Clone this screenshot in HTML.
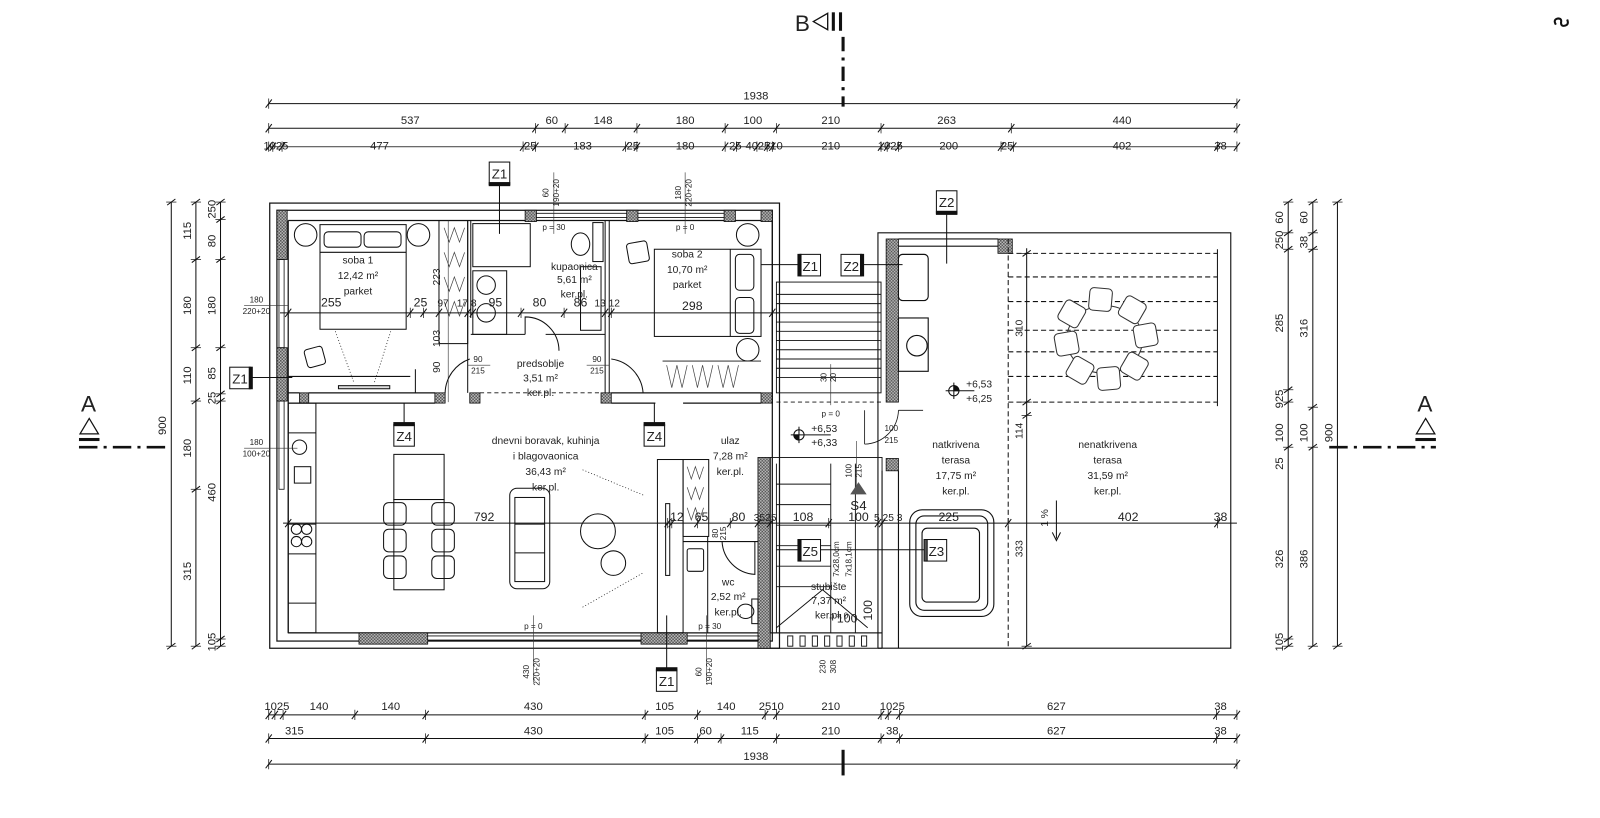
<!DOCTYPE html>
<html><head><meta charset="utf-8"><style>
html,body{margin:0;padding:0;background:#fff;}
svg{display:block;}
text{font-family:"Liberation Sans Narrow","Liberation Sans",sans-serif;fill:#222;}
</style></head><body>
<svg xmlns="http://www.w3.org/2000/svg" width="1600" height="818" viewBox="0 0 1560 797.5" preserveAspectRatio="none">
<defs>
<pattern id="h" width="3" height="3" patternUnits="userSpaceOnUse">
<rect width="3" height="3" fill="#bbb"/><rect width="1.5" height="1.5" fill="#555"/><rect x="1.5" y="1.5" width="1.5" height="1.5" fill="#555"/>
</pattern>
<g id="tk"><line x1="-3" y1="4" x2="3" y2="-4" stroke="#111" stroke-width="1"/><line x1="0" y1="-5" x2="0" y2="5" stroke="#111" stroke-width="0.7"/></g>
<g id="tv"><line x1="-4" y1="3" x2="4" y2="-3" stroke="#111" stroke-width="1"/><line x1="-5" y1="0" x2="5" y2="0" stroke="#111" stroke-width="0.7"/></g>
</defs>
<rect width="1560" height="798" fill="#fff"/>

<!-- B section marks -->
<text x="775" y="30" font-size="22" font-family="Liberation Sans">B</text>
<polygon points="793,21 807,13 807,29" fill="none" stroke="#111" stroke-width="1.3"/>
<rect x="811" y="12" width="3" height="18" fill="#111"/><rect x="818" y="12" width="3" height="18" fill="#111"/>
<line x1="822" y1="36" x2="822" y2="104" stroke="#111" stroke-width="3" stroke-dasharray="14,6,3,6"/>
<line x1="822" y1="731" x2="822" y2="756" stroke="#111" stroke-width="3"/>
<path d="M1517,24 q-3,-5 2,-6 q4,0 3,4 q0,4 4,3 q4,-1 2,-6" fill="none" stroke="#111" stroke-width="2"/>

<!-- TOP DIMENSIONS -->
<g stroke="#111" stroke-width="1"><line x1="262" y1="101" x2="1206" y2="101"/><line x1="262" y1="125" x2="1206" y2="125"/><line x1="262" y1="143" x2="1206" y2="143" stroke="#555"/></g>
<g font-size="11" text-anchor="middle">
<text x="737" y="97">1938</text>
<text x="400" y="121">537</text><text x="538" y="121">60</text><text x="588" y="121">148</text><text x="668" y="121">180</text><text x="734" y="121">100</text><text x="810" y="121">210</text><text x="923" y="121">263</text><text x="1094" y="121">440</text>
<text x="269" y="146">1025</text><text x="370" y="146">477</text><text x="517" y="146">25</text><text x="568" y="146">183</text><text x="617" y="146">25</text><text x="668" y="146">180</text><text x="717" y="146">25</text><text x="733" y="146">40</text><text x="751" y="146">2510</text><text x="810" y="146">210</text><text x="868" y="146">1025</text><text x="925" y="146">200</text><text x="982" y="146">25</text><text x="1094" y="146">402</text><text x="1190" y="146">38</text>
</g>
<use href="#tk" x="262" y="101"/><use href="#tk" x="1206" y="101"/>
<use href="#tk" x="262" y="125"/><use href="#tk" x="522" y="125"/><use href="#tk" x="551" y="125"/><use href="#tk" x="621" y="125"/><use href="#tk" x="707" y="125"/><use href="#tk" x="757" y="125"/><use href="#tk" x="859" y="125"/><use href="#tk" x="986" y="125"/><use href="#tk" x="1206" y="125"/>
<use href="#tk" x="262" y="143"/><use href="#tk" x="266" y="143"/><use href="#tk" x="275" y="143"/><use href="#tk" x="510" y="143"/><use href="#tk" x="522" y="143"/><use href="#tk" x="610" y="143"/><use href="#tk" x="621" y="143"/><use href="#tk" x="707" y="143"/><use href="#tk" x="718" y="143"/><use href="#tk" x="738" y="143"/><use href="#tk" x="748" y="143"/><use href="#tk" x="753" y="143"/><use href="#tk" x="859" y="143"/><use href="#tk" x="865" y="143"/><use href="#tk" x="876" y="143"/><use href="#tk" x="976" y="143"/><use href="#tk" x="988" y="143"/><use href="#tk" x="1187" y="143"/><use href="#tk" x="1206" y="143"/>

<!-- BOTTOM DIMENSIONS -->
<g stroke="#111" stroke-width="1"><line x1="262" y1="697" x2="1206" y2="697"/><line x1="262" y1="720" x2="1206" y2="720"/><line x1="262" y1="745" x2="1206" y2="745"/></g>
<g font-size="11" text-anchor="middle">
<text x="270" y="692">1025</text><text x="311" y="692">140</text><text x="381" y="692">140</text><text x="520" y="692">430</text><text x="648" y="692">105</text><text x="708" y="692">140</text><text x="752" y="692">2510</text><text x="810" y="692">210</text><text x="870" y="692">1025</text><text x="1030" y="692">627</text><text x="1190" y="692">38</text>
<text x="287" y="716">315</text><text x="520" y="716">430</text><text x="648" y="716">105</text><text x="688" y="716">60</text><text x="731" y="716">115</text><text x="810" y="716">210</text><text x="870" y="716">38</text><text x="1030" y="716">627</text><text x="1190" y="716">38</text>
<text x="737" y="741">1938</text>
</g>
<use href="#tk" x="262" y="697"/><use href="#tk" x="268" y="697"/><use href="#tk" x="276" y="697"/><use href="#tk" x="346" y="697"/><use href="#tk" x="415" y="697"/><use href="#tk" x="629" y="697"/><use href="#tk" x="680" y="697"/><use href="#tk" x="746" y="697"/><use href="#tk" x="757" y="697"/><use href="#tk" x="859" y="697"/><use href="#tk" x="866" y="697"/><use href="#tk" x="877" y="697"/><use href="#tk" x="1186" y="697"/><use href="#tk" x="1206" y="697"/>
<use href="#tk" x="262" y="720"/><use href="#tk" x="415" y="720"/><use href="#tk" x="629" y="720"/><use href="#tk" x="680" y="720"/><use href="#tk" x="703" y="720"/><use href="#tk" x="757" y="720"/><use href="#tk" x="859" y="720"/><use href="#tk" x="877" y="720"/><use href="#tk" x="1186" y="720"/><use href="#tk" x="1206" y="720"/>
<use href="#tk" x="262" y="745"/><use href="#tk" x="1206" y="745"/>

<!-- LEFT DIMENSIONS -->
<g stroke="#111" stroke-width="1"><line x1="167" y1="197" x2="167" y2="630"/><line x1="191" y1="197" x2="191" y2="630"/><line x1="215" y1="197" x2="215" y2="630"/></g>
<use href="#tv" x="167" y="197"/><use href="#tv" x="167" y="630"/>
<use href="#tv" x="191" y="197"/><use href="#tv" x="191" y="253"/><use href="#tv" x="191" y="339"/><use href="#tv" x="191" y="391"/><use href="#tv" x="191" y="477"/><use href="#tv" x="191" y="630"/>
<use href="#tv" x="215" y="197"/><use href="#tv" x="215" y="214"/><use href="#tv" x="215" y="253"/><use href="#tv" x="215" y="339"/><use href="#tv" x="215" y="384"/><use href="#tv" x="215" y="391"/><use href="#tv" x="215" y="623"/><use href="#tv" x="215" y="630"/>
<g font-size="11" text-anchor="middle">
<text transform="translate(186,225) rotate(-90)">115</text><text transform="translate(186,298) rotate(-90)">180</text><text transform="translate(186,366) rotate(-90)">110</text><text transform="translate(186,437) rotate(-90)">180</text><text transform="translate(186,557) rotate(-90)">315</text>
<text transform="translate(210,204) rotate(-90)">250</text><text transform="translate(210,235) rotate(-90)">80</text><text transform="translate(210,298) rotate(-90)">180</text><text transform="translate(210,364) rotate(-90)">85</text><text transform="translate(210,388) rotate(-90)">25</text><text transform="translate(210,480) rotate(-90)">460</text><text transform="translate(210,626) rotate(-90)">105</text>
<text transform="translate(162,415) rotate(-90)">900</text>
</g>
<text x="79" y="401" font-size="22" font-family="Liberation Sans">A</text>
<polygon points="87,408 78,423 96,423" fill="none" stroke="#111" stroke-width="1.2"/>
<rect x="77" y="427" width="20" height="3" fill="#111"/>
<line x1="77" y1="436" x2="167" y2="436" stroke="#111" stroke-width="2.5" stroke-dasharray="18,6,3,6"/>

<!-- RIGHT DIMENSIONS -->
<g stroke="#111" stroke-width="1"><line x1="1256" y1="197" x2="1256" y2="630"/><line x1="1280" y1="197" x2="1280" y2="630"/><line x1="1304" y1="197" x2="1304" y2="630"/></g>
<use href="#tv" x="1256" y="197"/><use href="#tv" x="1256" y="227"/><use href="#tv" x="1256" y="243"/><use href="#tv" x="1256" y="380"/><use href="#tv" x="1256" y="392"/><use href="#tv" x="1256" y="436"/><use href="#tv" x="1256" y="623"/><use href="#tv" x="1256" y="630"/>
<use href="#tv" x="1280" y="197"/><use href="#tv" x="1280" y="227"/><use href="#tv" x="1280" y="243"/><use href="#tv" x="1280" y="397"/><use href="#tv" x="1280" y="436"/><use href="#tv" x="1280" y="630"/>
<use href="#tv" x="1304" y="197"/><use href="#tv" x="1304" y="630"/>
<g font-size="11" text-anchor="middle">
<text transform="translate(1251,212) rotate(-90)">60</text><text transform="translate(1251,234) rotate(-90)">250</text><text transform="translate(1251,315) rotate(-90)">285</text><text transform="translate(1251,389) rotate(-90)">925</text><text transform="translate(1251,422) rotate(-90)">100</text><text transform="translate(1251,452) rotate(-90)">25</text><text transform="translate(1251,545) rotate(-90)">326</text><text transform="translate(1251,626) rotate(-90)">105</text>
<text transform="translate(1275,212) rotate(-90)">60</text><text transform="translate(1275,236) rotate(-90)">38</text><text transform="translate(1275,320) rotate(-90)">316</text><text transform="translate(1275,422) rotate(-90)">100</text><text transform="translate(1275,545) rotate(-90)">386</text>
<text transform="translate(1299,422) rotate(-90)">900</text>
</g>
<text x="1382" y="401" font-size="22" font-family="Liberation Sans">A</text>
<polygon points="1390,408 1381,423 1399,423" fill="none" stroke="#111" stroke-width="1.2"/>
<rect x="1380" y="427" width="20" height="3" fill="#111"/>
<line x1="1296" y1="436" x2="1400" y2="436" stroke="#111" stroke-width="2.5" stroke-dasharray="18,6,3,6"/>

<!-- MAIN HOUSE WALLS -->
<g fill="none" stroke="#111" stroke-width="1.2">
<rect x="263" y="198" width="497" height="434"/>
<rect x="270" y="205" width="483" height="420"/>
<line x1="281" y1="215" x2="753" y2="215"/>
<line x1="281" y1="215" x2="281" y2="617"/>
<line x1="281" y1="617" x2="740" y2="617"/>
</g>
<!-- hatched columns -->
<g fill="url(#h)" stroke="#111" stroke-width="0.8">
<rect x="270" y="205" width="10" height="48"/><rect x="270" y="339" width="10" height="52"/>
<rect x="512" y="205" width="11" height="11"/><rect x="611" y="205" width="11" height="11"/><rect x="706" y="205" width="11" height="11"/><rect x="742" y="205" width="11" height="11"/>
<rect x="292" y="383" width="9" height="10"/><rect x="424" y="383" width="10" height="10"/><rect x="458" y="383" width="10" height="10"/><rect x="586" y="383" width="10" height="10"/><rect x="742" y="383" width="11" height="10"/>
<rect x="350" y="617" width="67" height="11"/><rect x="625" y="617" width="45" height="11"/>
<rect x="739" y="446" width="12" height="186"/>
<rect x="864" y="233" width="12" height="159"/><rect x="973" y="233" width="14" height="14"/>
<rect x="864" y="447" width="12" height="12"/>
</g>
<!-- windows -->
<g fill="none" stroke="#111" stroke-width="0.8">
<rect x="272" y="253" width="5" height="86"/><rect x="272" y="391" width="5" height="86"/>
<line x1="523" y1="208" x2="611" y2="208"/><line x1="523" y1="212" x2="611" y2="212"/>
<line x1="622" y1="208" x2="706" y2="208"/><line x1="622" y1="212" x2="706" y2="212"/>
<line x1="417" y1="620" x2="625" y2="620"/><line x1="417" y1="624" x2="625" y2="624"/>
<line x1="670" y1="620" x2="740" y2="620"/><line x1="670" y1="624" x2="740" y2="624"/>
</g>
<!-- interior horizontal wall -->
<g stroke="#111" stroke-width="1.2" fill="none">
<line x1="281" y1="383" x2="292" y2="383"/><line x1="281" y1="393" x2="424" y2="393"/><line x1="301" y1="383" x2="424" y2="383"/>
<line x1="596" y1="383" x2="742" y2="383"/><line x1="596" y1="393" x2="639" y2="393"/><line x1="666" y1="393" x2="742" y2="393"/>
<line x1="468" y1="383" x2="586" y2="383" stroke-dasharray="4,3" stroke-width="0.8"/>
<line x1="753" y1="215" x2="753" y2="393"/>
</g>
<!-- bedroom 1 / wardrobe / bath walls -->
<g stroke="#111" stroke-width="1" fill="none">
<rect x="428" y="215" width="28" height="120"/>
<line x1="456" y1="215" x2="456" y2="383"/><line x1="459" y1="215" x2="459" y2="310"/>
<rect x="461" y="218" width="56" height="42"/>
<rect x="461" y="264" width="33" height="62"/>
<line x1="459" y1="326" x2="512" y2="326"/><line x1="532" y1="326" x2="590" y2="326"/>
<line x1="590" y1="215" x2="590" y2="383"/><line x1="594" y1="215" x2="594" y2="383"/>
<rect x="566" y="260" width="20" height="62"/>
<rect x="578" y="217" width="10" height="38"/>
<path d="M512,326 L512,309 A33,33 0 0 1 545,342" />
<path d="M434,383 A36,36 0 0 1 458,350"/><path d="M596,350 A36,36 0 0 1 627,383"/>
<line x1="405" y1="383" x2="405" y2="360"/>
</g>
<!-- wardrobe zigzag -->
<path d="M433,222 l5,14 l5,-14 l5,14 l5,-14 M433,246 l5,14 l5,-14 l5,14 l5,-14 M433,270 l5,14 l5,-14 l5,14 l5,-14 M433,294 l5,14 l5,-14 l5,14 l5,-14" stroke="#444" stroke-width="0.7" fill="none"/>
<path d="M650,356 l5,22 l5,-22 l5,22 l5,-22 M675,356 l5,22 l5,-22 l5,22 l5,-22 M700,356 l5,22 l5,-22 l5,22 l5,-22" stroke="#444" stroke-width="0.7" fill="none"/>
<line x1="646" y1="352" x2="742" y2="352" stroke="#111" stroke-width="0.8"/>
<!-- bed 1 -->
<g stroke="#111" stroke-width="1" fill="none">
<rect x="312" y="219" width="84" height="102"/><line x1="312" y1="246" x2="396" y2="246"/>
<rect x="316" y="226" width="36" height="15" rx="4"/><rect x="355" y="226" width="36" height="15" rx="4"/>
<circle cx="298" cy="229" r="11"/><circle cx="408" cy="229" r="11"/>
<rect x="298" y="339" width="18" height="18" rx="3" transform="rotate(-15 307 348)"/>
<line x1="281" y1="367" x2="400" y2="367"/>
<rect x="330" y="376" width="50" height="3" fill="#ddd"/>
<path d="M327,323 L345,373 M381,323 L365,373" stroke-dasharray="1,2" stroke-width="0.7"/>
<!-- bed 2 -->
<rect x="638" y="243" width="104" height="85"/><line x1="712" y1="243" x2="712" y2="328"/>
<rect x="717" y="248" width="18" height="35" rx="4"/><rect x="717" y="290" width="18" height="35" rx="4"/>
<circle cx="729" cy="229" r="11"/><circle cx="729" cy="341" r="11"/>
<rect x="612" y="236" width="20" height="20" rx="3" transform="rotate(-10 622 246)"/>
<!-- bathroom fixtures -->
<ellipse cx="566" cy="238" rx="9" ry="11"/><circle cx="474" cy="278" r="9"/><circle cx="474" cy="305" r="9"/>
</g>
<!-- living room -->
<g stroke="#111" stroke-width="1" fill="none">
<rect x="281" y="393" width="27" height="224"/>
<line x1="281" y1="422" x2="308" y2="422"/><line x1="281" y1="511" x2="308" y2="511"/><line x1="281" y1="540" x2="308" y2="540"/><line x1="281" y1="588" x2="308" y2="588"/>
<rect x="287" y="455" width="16" height="16"/>
<circle cx="289" cy="516" r="5"/><circle cx="299" cy="516" r="5"/><circle cx="289" cy="528" r="5"/><circle cx="299" cy="528" r="5"/>
<circle cx="292" cy="436" r="7"/>
<rect x="384" y="443" width="49" height="44"/>
<rect x="384" y="487" width="49" height="88"/>
<rect x="374" y="490" width="22" height="22" rx="5"/><rect x="421" y="490" width="22" height="22" rx="5"/>
<rect x="374" y="516" width="22" height="22" rx="5"/><rect x="421" y="516" width="22" height="22" rx="5"/>
<rect x="374" y="542" width="22" height="22" rx="5"/><rect x="421" y="542" width="22" height="22" rx="5"/>
<rect x="497" y="476" width="39" height="98" rx="7"/><rect x="502" y="485" width="29" height="82"/><line x1="502" y1="511" x2="531" y2="511"/><line x1="502" y1="539" x2="531" y2="539"/>
<circle cx="583" cy="518" r="17"/><circle cx="598" cy="549" r="12"/>
<path d="M568,458 L628,483 M568,592 L628,558" stroke-dasharray="1,2" stroke-width="0.7"/>
<rect x="641" y="448" width="25" height="169"/>
<rect x="649" y="491" width="4" height="70"/>
<rect x="666" y="448" width="25" height="75"/>
<path d="M670,455 l4,12 l4,-12 l4,12 l4,-12 M670,475 l4,12 l4,-12 l4,12 l4,-12 M670,495 l4,12 l4,-12 l4,12 l4,-12" stroke="#444" stroke-width="0.7"/>
<line x1="666" y1="528" x2="739" y2="528"/><line x1="690" y1="523" x2="690" y2="617"/>
<path d="M704,528 A34,34 0 0 0 736,560 L736,528"/>
<rect x="670" y="535" width="16" height="22" rx="2"/>
<ellipse cx="727" cy="596" rx="8" ry="7"/><rect x="733" y="584" width="6" height="24"/>
</g>
<!-- stairs -->
<g stroke="#111" stroke-width="0.9" fill="none">
<rect x="751" y="446" width="109" height="171"/>
<line x1="757" y1="452" x2="757" y2="617"/><line x1="810" y1="452" x2="810" y2="617"/><line x1="834" y1="452" x2="834" y2="617"/>
<line x1="757" y1="472" x2="810" y2="472"/><line x1="757" y1="492" x2="810" y2="492"/><line x1="757" y1="512" x2="810" y2="512"/><line x1="757" y1="532" x2="810" y2="532"/><line x1="757" y1="552" x2="810" y2="552"/><line x1="757" y1="572" x2="810" y2="572"/>
<path d="M757,612 L802,575 L846,612"/>
<line x1="751" y1="617" x2="860" y2="617"/>
<g><rect x="768" y="620" width="5" height="10"/><rect x="780" y="620" width="5" height="10"/><rect x="792" y="620" width="5" height="10"/><rect x="804" y="620" width="5" height="10"/><rect x="816" y="620" width="5" height="10"/><rect x="828" y="620" width="5" height="10"/><rect x="840" y="620" width="5" height="10"/></g>
<line x1="751" y1="632" x2="860" y2="632"/>
<!-- north external steps -->
<rect x="757" y="275" width="102" height="108"/>
<line x1="757" y1="287" x2="859" y2="287"/><line x1="757" y1="296" x2="859" y2="296"/><line x1="757" y1="305" x2="859" y2="305"/><line x1="757" y1="314" x2="859" y2="314"/><line x1="757" y1="323" x2="859" y2="323"/><line x1="757" y1="332" x2="859" y2="332"/><line x1="757" y1="341" x2="859" y2="341"/><line x1="757" y1="350" x2="859" y2="350"/><line x1="757" y1="359" x2="859" y2="359"/><line x1="757" y1="368" x2="859" y2="368"/>
<line x1="757" y1="392" x2="859" y2="392" stroke-dasharray="4,3"/>
</g>
<!-- terrace -->
<g stroke="#111" stroke-width="1.1" fill="none">
<polyline points="856,632 856,227 1200,227 1200,632 856,632"/>
<line x1="876" y1="233" x2="973" y2="233"/><line x1="876" y1="240" x2="973" y2="240"/>
<line x1="860" y1="632" x2="860" y2="459"/><line x1="876" y1="459" x2="876" y2="632"/>
<rect x="876" y="248" width="29" height="45" rx="4"/><rect x="876" y="310" width="29" height="52"/><circle cx="894" cy="337" r="10"/>
<path d="M876,400 L900,400 M876,400 A34,34 0 0 1 843,433 M843,433 L843,400" stroke-width="0.8"/>
<rect x="887" y="497" width="82" height="104" rx="12"/><rect x="893" y="503" width="70" height="92" rx="8"/><rect x="899" y="515" width="56" height="72" rx="5"/>
</g>
<g stroke="#111" stroke-width="1" fill="none" stroke-dasharray="5,3">
<line x1="983" y1="233" x2="983" y2="632"/>
<line x1="983" y1="247" x2="1187" y2="247"/><line x1="983" y1="270" x2="1187" y2="270"/><line x1="983" y1="294" x2="1187" y2="294"/><line x1="983" y1="322" x2="1187" y2="322"/><line x1="983" y1="343" x2="1187" y2="343"/><line x1="983" y1="367" x2="1187" y2="367"/><line x1="983" y1="392" x2="1187" y2="392"/>
</g>
<line x1="1187" y1="243" x2="1187" y2="396" stroke="#111"/>
<!-- table + chairs -->
<g stroke="#333" stroke-width="1" fill="#fff">
<ellipse cx="1077" cy="331" rx="37" ry="33" fill="none"/>
<rect x="-11" y="-11" width="22" height="22" rx="4" transform="translate(1073,292) rotate(5)"/>
<rect x="-11" y="-11" width="22" height="22" rx="4" transform="translate(1104,302) rotate(30)"/>
<rect x="-11" y="-11" width="22" height="22" rx="4" transform="translate(1117,327) rotate(80)"/>
<rect x="-11" y="-11" width="22" height="22" rx="4" transform="translate(1106,357) rotate(120)"/>
<rect x="-11" y="-11" width="22" height="22" rx="4" transform="translate(1081,369) rotate(175)"/>
<rect x="-11" y="-11" width="22" height="22" rx="4" transform="translate(1053,361) rotate(210)"/>
<rect x="-11" y="-11" width="22" height="22" rx="4" transform="translate(1040,335) rotate(260)"/>
<rect x="-11" y="-11" width="22" height="22" rx="4" transform="translate(1045,306) rotate(300)"/>
</g>
<!-- terrace vertical dim -->
<line x1="1001" y1="242" x2="1001" y2="630" stroke="#111"/>
<use href="#tv" x="1001" y="247"/><use href="#tv" x="1001" y="392"/><use href="#tv" x="1001" y="405"/><use href="#tv" x="1001" y="630"/>
<g font-size="10" text-anchor="middle"><text transform="translate(997,320) rotate(-90)">310</text><text transform="translate(997,420) rotate(-90)">114</text><text transform="translate(997,535) rotate(-90)">333</text><text transform="translate(1022,505) rotate(-90)">1 %</text></g>
<path d="M1030,488 L1030,525 M1026,519 L1030,527 L1034,519" stroke="#111" fill="none"/>

<!-- horizontal mid dims -->
<line x1="276" y1="510" x2="1206" y2="510" stroke="#111"/>
<use href="#tk" x="281" y="510"/><use href="#tk" x="651" y="510"/><use href="#tk" x="655" y="510"/><use href="#tk" x="680" y="510"/><use href="#tk" x="712" y="510"/><use href="#tk" x="739" y="510"/><use href="#tk" x="751" y="510"/><use href="#tk" x="808" y="510"/><use href="#tk" x="856" y="510"/><use href="#tk" x="860" y="510"/><use href="#tk" x="983" y="510"/><use href="#tk" x="1187" y="510"/>
<line x1="273" y1="305" x2="760" y2="305" stroke="#111"/>
<use href="#tk" x="281" y="305"/><use href="#tk" x="400" y="305"/><use href="#tk" x="413" y="305"/><use href="#tk" x="428" y="305"/><use href="#tk" x="456" y="305"/><use href="#tk" x="461" y="305"/><use href="#tk" x="508" y="305"/><use href="#tk" x="550" y="305"/><use href="#tk" x="590" y="305"/><use href="#tk" x="596" y="305"/><use href="#tk" x="753" y="305"/>
<g font-size="12" text-anchor="middle">
<text x="323" y="299">255</text><text x="410" y="299">25</text><text x="432" y="299" font-size="10">97</text><text x="455" y="299" font-size="10">17 8</text><text x="483" y="299">95</text><text x="526" y="299">80</text><text x="566" y="299">86</text><text x="592" y="299" font-size="10">13 12</text><text x="675" y="302">298</text>
<text x="472" y="508">792</text><text x="660" y="508">12</text><text x="684" y="508">65</text><text x="720" y="508">80</text><text x="746" y="508" font-size="10">3525</text><text x="783" y="508">108</text><text x="837" y="508">100</text><text x="866" y="508" font-size="10">5 25 3</text><text x="925" y="508">225</text><text x="1100" y="508">402</text><text x="1190" y="508">38</text>
<text x="826" y="607">100</text>
</g>
<text transform="translate(850,595) rotate(-90)" font-size="12" text-anchor="middle">100</text>

<!-- room labels -->
<g font-size="10" text-anchor="middle">
<text x="349" y="257">soba 1</text><text x="349" y="272">12,42 m²</text><text x="349" y="287">parket</text>
<text x="670" y="251">soba 2</text><text x="670" y="266">10,70 m²</text><text x="670" y="281">parket</text>
<text x="560" y="263">kupaonica</text><text x="560" y="276">5,61 m²</text><text x="560" y="290">ker.pl.</text>
<text x="527" y="358">predsoblje</text><text x="527" y="372">3,51 m²</text><text x="527" y="386">ker.pl.</text>
<text x="532" y="433">dnevni boravak, kuhinja</text><text x="532" y="448">i blagovaonica</text><text x="532" y="463">36,43 m²</text><text x="532" y="478">ker.pl.</text>
<text x="712" y="433">ulaz</text><text x="712" y="448">7,28 m²</text><text x="712" y="463">ker.pl.</text>
<text x="710" y="571">wc</text><text x="710" y="585">2,52 m²</text><text x="710" y="600">ker.pl.</text>
<text x="808" y="575">stubište</text><text x="808" y="589">7,37 m²</text><text x="808" y="603">ker.pl.</text>
<text x="932" y="437">natkrivena</text><text x="932" y="452">terasa</text><text x="932" y="467">17,75 m²</text><text x="932" y="482">ker.pl.</text>
<text x="1080" y="437">nenatkrivena</text><text x="1080" y="452">terasa</text><text x="1080" y="467">31,59 m²</text><text x="1080" y="482">ker.pl.</text>
</g>
<g font-size="8" text-anchor="middle" fill="#333">
<text x="466" y="353">90</text><text x="466" y="364">215</text><line x1="456" y1="356" x2="478" y2="356" stroke="#333" stroke-width="0.6"/>
<text x="582" y="353">90</text><text x="582" y="364">215</text><line x1="572" y1="356" x2="594" y2="356" stroke="#333" stroke-width="0.6"/>
<text x="250" y="295">180</text><text x="250" y="306">220+20</text><line x1="238" y1="298" x2="281" y2="298" stroke="#333" stroke-width="0.6"/>
<text x="250" y="434">180</text><text x="250" y="445">100+20</text><line x1="238" y1="437" x2="290" y2="437" stroke="#333" stroke-width="0.6"/>
<text x="869" y="420">100</text><text x="869" y="432">215</text>
<text x="540" y="224">p = 30</text><text x="668" y="224">p = 0</text><text x="520" y="613">p = 0</text><text x="692" y="613">p = 30</text><text x="810" y="406">p = 0</text><text x="818" y="603">p = 0</text>
<text transform="translate(535,188) rotate(-90)">60</text><text transform="translate(545,188) rotate(-90)">190+20</text>
<text transform="translate(664,188) rotate(-90)">180</text><text transform="translate(674,188) rotate(-90)">220+20</text>
<text transform="translate(516,655) rotate(-90)">430</text><text transform="translate(526,655) rotate(-90)">220+20</text>
<text transform="translate(684,655) rotate(-90)">60</text><text transform="translate(694,655) rotate(-90)">190+20</text>
<text transform="translate(805,650) rotate(-90)">230</text><text transform="translate(815,650) rotate(-90)">308</text>
<text transform="translate(806,368) rotate(-90)">30</text><text transform="translate(815,368) rotate(-90)">20</text>
<text transform="translate(830,459) rotate(-90)">100</text><text transform="translate(840,459) rotate(-90)">215</text>
<text transform="translate(818,545) rotate(-90)">7x28,0cm</text><text transform="translate(830,545) rotate(-90)">7x18,1cm</text>
<text transform="translate(429,270) rotate(-90)" font-size="10">223</text><text transform="translate(429,330) rotate(-90)" font-size="10">103</text><text transform="translate(429,358) rotate(-90)" font-size="10">90</text>
<text transform="translate(700,520) rotate(-90)">80</text><text transform="translate(708,520) rotate(-90)">215</text>
</g>
<g stroke="#333" stroke-width="0.6"><line x1="540" y1="168" x2="540" y2="228"/><line x1="668" y1="168" x2="668" y2="228"/><line x1="520" y1="600" x2="520" y2="665"/><line x1="689" y1="600" x2="689" y2="665"/><line x1="810" y1="355" x2="810" y2="395"/><line x1="835" y1="430" x2="835" y2="475"/><line x1="437" y1="215" x2="437" y2="392"/></g>

<!-- level marks -->
<g stroke="#111" fill="none"><circle cx="930" cy="381" r="5"/><line x1="922" y1="381" x2="950" y2="381"/><line x1="930" y1="373" x2="930" y2="389"/><path d="M930,381 L930,376 A5,5 0 0 1 935,381 Z" fill="#111"/>
<circle cx="779" cy="424" r="5"/><line x1="771" y1="424" x2="810" y2="424"/><line x1="779" y1="416" x2="779" y2="432"/><path d="M779,424 L779,429 A5,5 0 0 1 774,424 Z" fill="#111"/></g>
<g font-size="10" fill="#555"><text x="942" y="378">+6,53</text><text x="942" y="392">+6,25</text><text x="791" y="421">+6,53</text><text x="791" y="435">+6,33</text></g>
<polygon points="837,470 829,482 845,482" fill="#555"/>
<text x="837" y="497" font-size="13" text-anchor="middle">S4</text>

<!-- Z tags -->
<g stroke="#111" stroke-width="1" fill="#fff">
<line x1="487" y1="180" x2="487" y2="228"/><rect x="477" y="158" width="20" height="22"/><rect x="477" y="178" width="20" height="3" fill="#111"/>
<line x1="923" y1="208" x2="923" y2="257"/><rect x="913" y="186" width="20" height="22"/><rect x="913" y="206" width="20" height="3" fill="#111"/>
<line x1="742" y1="258" x2="780" y2="258"/><rect x="780" y="248" width="20" height="21"/><rect x="778" y="248" width="3" height="21" fill="#111"/>
<line x1="840" y1="258" x2="880" y2="258"/><rect x="820" y="248" width="20" height="21"/><rect x="839" y="248" width="3" height="21" fill="#111"/>
<line x1="244" y1="368" x2="285" y2="368"/><rect x="224" y="358" width="20" height="21"/><rect x="243" y="358" width="3" height="21" fill="#111"/>
<line x1="394" y1="393" x2="394" y2="414"/><rect x="384" y="414" width="20" height="21"/><rect x="384" y="412" width="20" height="3" fill="#111"/>
<line x1="638" y1="393" x2="638" y2="414"/><rect x="628" y="414" width="20" height="21"/><rect x="628" y="412" width="20" height="3" fill="#111"/>
<line x1="650" y1="600" x2="650" y2="653"/><rect x="640" y="653" width="20" height="21"/><rect x="640" y="651" width="20" height="3" fill="#111"/>
<line x1="757" y1="536" x2="780" y2="536"/><rect x="780" y="526" width="20" height="21"/><rect x="778" y="526" width="3" height="21" fill="#111"/>
<line x1="800" y1="536" x2="903" y2="536"/><rect x="903" y="526" width="20" height="21"/><rect x="901" y="526" width="3" height="21" fill="#555"/>
</g>
<g font-size="13" text-anchor="middle">
<text x="487" y="174">Z1</text><text x="923" y="202">Z2</text><text x="790" y="264">Z1</text><text x="830" y="264">Z2</text><text x="234" y="374">Z1</text><text x="394" y="430">Z4</text><text x="638" y="430">Z4</text><text x="650" y="669">Z1</text><text x="790" y="542">Z5</text><text x="913" y="542">Z3</text>
</g>
</svg>
</body></html>
